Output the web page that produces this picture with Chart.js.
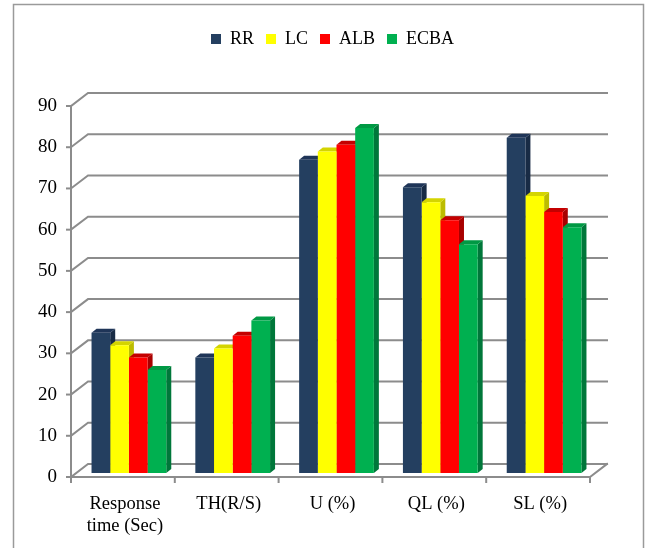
<!DOCTYPE html>
<html>
<head>
<meta charset="utf-8">
<script src="https://cdn.jsdelivr.net/npm/chart.js@4.4.1/dist/chart.umd.min.js"></script>
<style>
html, body { margin: 0; padding: 0; background: #fff; }
</style>
</head>
<body>
<canvas id="myChart" width="645" height="548"></canvas>
<script>
// data
var categories = [["Response", "time (Sec)"], "TH(R/S)", "U (%)", "QL (%)", "SL (%)"];
var rrValues   = [34, 28, 76, 69.3, 81.3];
var lcValues   = [31, 30.2, 78, 65.7, 67.2];
var albValues  = [28, 33.3, 79.6, 61.3, 63.3];
var ecbaValues = [25, 37, 83.7, 55.5, 59.6];
var yTickLabels = ["0", "10", "20", "30", "40", "50", "60", "70", "80", "90"];

var FONT = '"Liberation Serif", "Times New Roman", serif';
Chart.defaults.font.family = FONT;

// fake 3d: bars sit a little behind the front plane, grid on the back wall
var BAR_DX = 5, BAR_DY = 4;
var WALL_DX = 17, WALL_DY = 13;
var FRONT_DY = 4, SHIFT_X = 6;

var sideColors = ["#182b45", "#bcbc00", "#a80000", "#00773a"];
var topColors  = ["#1f3558", "#d4d400", "#c40000", "#009944"];

var legendSpace = {
	id: 'legendSpace',
	beforeInit: function(chart){
		var fit = chart.legend.fit;
		chart.legend.fit = function(){
			fit.bind(chart.legend)();
			this.height = 84;
		};
	}
};

var walls = {
	id: 'walls',
	beforeDraw: function(chart){
		var ctx = chart.ctx;
		ctx.save();
		ctx.strokeStyle = "#9a9a9a";
		ctx.lineWidth = 1.5;
		ctx.beginPath();
		ctx.moveTo(13.5, 560);
		ctx.lineTo(13.5, 4.5);
		ctx.lineTo(643.5, 4.5);
		ctx.lineTo(643.5, 560);
		ctx.stroke();
		ctx.restore();
	},
	beforeDatasetsDraw: function(chart){
		var ctx = chart.ctx, ys = chart.scales.y, a = chart.chartArea;
		var fl = a.left - SHIFT_X, fr = a.right - SHIFT_X;
		var bl = fl + WALL_DX, br = fr + WALL_DX;
		var fy = function(v){ return ys.getPixelForValue(v) + FRONT_DY; };
		var by = function(v){ return fy(v) - WALL_DY; };
		ctx.save();
		ctx.strokeStyle = "#8c8c8c";
		ctx.lineWidth = 2;
		ctx.lineCap = "square";
		// back wall grid + left wall diagonals
		for (var i = 0; i < yTickLabels.length; i++) {
			var v = Number(yTickLabels[i]);
			ctx.beginPath();
			ctx.moveTo(fl, fy(v));
			ctx.lineTo(bl, by(v));
			ctx.lineTo(br, by(v));
			ctx.stroke();
			ctx.beginPath();
			ctx.moveTo(fl - 4, fy(v));
			ctx.lineTo(fl, fy(v));
			ctx.stroke();
		}
		// floor front edge and right edge
		ctx.beginPath();
		ctx.moveTo(fl, fy(0));
		ctx.lineTo(fr, fy(0));
		ctx.lineTo(br, by(0));
		ctx.stroke();
		// front value axis
		ctx.beginPath();
		ctx.moveTo(fl, fy(90));
		ctx.lineTo(fl, fy(0));
		ctx.stroke();
		// category ticks
		var cw = (fr - fl) / categories.length;
		for (var k = 0; k <= categories.length; k++) {
			ctx.beginPath();
			ctx.moveTo(fl + k * cw, fy(0));
			ctx.lineTo(fl + k * cw, fy(0) + 5);
			ctx.stroke();
		}
		// bar sides and tops
		chart.data.datasets.forEach(function(ds, d){
			var meta = chart.getDatasetMeta(d);
			meta.data.forEach(function(el){
				var l = el.x - el.width / 2, r = el.x + el.width / 2;
				ctx.fillStyle = sideColors[d];
				ctx.beginPath();
				ctx.moveTo(r, el.y);
				ctx.lineTo(r + BAR_DX, el.y - BAR_DY);
				ctx.lineTo(r + BAR_DX, el.base - BAR_DY);
				ctx.lineTo(r, el.base);
				ctx.closePath();
				ctx.fill();
				ctx.fillStyle = topColors[d];
				ctx.beginPath();
				ctx.moveTo(l, el.y);
				ctx.lineTo(l + BAR_DX, el.y - BAR_DY);
				ctx.lineTo(r + BAR_DX, el.y - BAR_DY);
				ctx.lineTo(r, el.y);
				ctx.closePath();
				ctx.fill();
			});
		});
		ctx.restore();
	}
};

var ctx = document.getElementById("myChart");

var data = {
	labels: categories,
	datasets: [
		{ label: "RR",   backgroundColor: "#243f60", data: rrValues },
		{ label: "LC",   backgroundColor: "#ffff00", data: lcValues },
		{ label: "ALB",  backgroundColor: "#ff0000", data: albValues },
		{ label: "ECBA", backgroundColor: "#00b050", data: ecbaValues }
	]
};

var myChart = new Chart(ctx, {
	type: "bar",
	data: data,
	plugins: [legendSpace, walls],
	options: {
		responsive: false,
		animation: false,
		layout: { padding: { left: 20, top: 18, right: 0, bottom: 0 } },
		datasets: { bar: { categoryPercentage: 0.72, barPercentage: 1, borderWidth: 0 } },
		plugins: {
			tooltip: { enabled: false },
			legend: {
				position: "top",
				labels: {
					color: "#000",
					font: { size: 18 },
					boxWidth: 10,
					boxHeight: 10,
					padding: 12
				}
			}
		},
		scales: {
			x: {
				grid: { display: false, drawTicks: false },
				border: { display: false },
				ticks: { color: "#000", font: { size: 18.5, lineHeight: 1.15 }, padding: 21, labelOffset: -4, maxRotation: 0, autoSkip: false },
				afterFit: function(s){ s.height = 75; }
			},
			y: {
				min: 0,
				max: 90,
				grid: { display: false, drawTicks: false },
				border: { display: false },
				ticks: {
					stepSize: 10,
					color: "#000",
					font: { size: 19 },
					padding: 20,
					labelOffset: 4,
					callback: function(v, i){ return yTickLabels[i]; }
				},
				afterFit: function(s){ s.width = 57; }
			},
			y2: {
				position: "right",
				display: true,
				grid: { display: false, drawTicks: false },
				border: { display: false },
				ticks: { display: false },
				afterFit: function(s){ s.width = 49; }
			}
		}
	}
});
</script>
</body>
</html>
